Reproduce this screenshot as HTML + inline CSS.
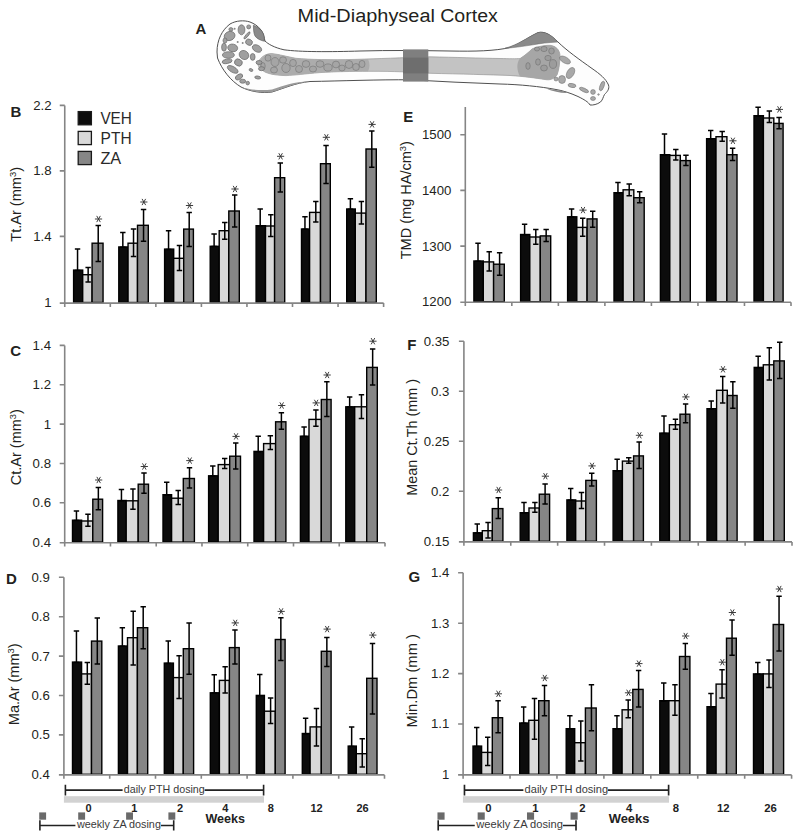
<!DOCTYPE html>
<html><head><meta charset="utf-8"><title>Figure</title>
<style>
html,body{margin:0;padding:0;background:#fff;}
body{width:800px;height:838px;overflow:hidden;}
svg{display:block;font-family:"Liberation Sans", sans-serif;}
</style></head>
<body>
<svg width="800" height="838" viewBox="0 0 800 838">
<rect width="800" height="838" fill="#fff"/>
<text x="297.6" y="22" font-size="19.2" fill="#231f20" textLength="137.3" lengthAdjust="spacingAndGlyphs">Mid-Diaphyseal</text>
<text x="440.2" y="22" font-size="19.2" fill="#231f20" textLength="57.6" lengthAdjust="spacingAndGlyphs">Cortex</text>
<text x="195.6" y="34" font-size="15" font-weight="bold" fill="#231f20">A</text>
<path d="M217 52 C217 40 222 30 230 24 C236 20.5 244 20 250 22 C254 23.5 258 26 261 30 C264 34 264 38 265 41 C268 44 274 47.5 284 49.8 C300 52 330 52 360 51 C390 50.2 420 50.5 450 51 C475 51.5 495 51 510 47.5 C520 44 530 36 538 32.6 C545 31 551 35 558 42 C566 50 580 60 592 68.5 C600 74 606 79 608.5 85 C609.8 89 607 92 604.5 94.5 C603 97 603 99.5 600.5 102 C597 104.5 593 105.3 590 105 C588.5 102 584 99.5 578 96.5 C570 92.8 562 90.5 556 89.5 C540 86.5 520 84.5 500 84 C470 83 440 81.5 410 79.8 C380 79.5 340 81 310 81.5 C295 83 285 88 272 92 C262 93.5 250 91.5 241 87 C231 81 222 70 217.5 58 Z" fill="#fdfdfd" stroke="#505050" stroke-width="1.0"/>
<path d="M253.4 25.3 C258 27 262 30 263.5 34 C264.5 37 264.3 39.5 264.5 41.3 C261 40.5 257 39 255 36 C253.5 33 253.5 29 253.4 25.3 Z" fill="#8a8a8a" stroke="#555" stroke-width="0.6"/>
<path d="M505 48.2 C518 45 528 37 538 32.6 C545 31 551 35 558 42 C548 42.5 540 43.5 533 44.8 C522 46.5 512 48 505 48.2 Z" fill="#8a8a8a" stroke="#666" stroke-width="0.5"/>
<path d="M241 87 C250 91.5 262 93.5 272 92 C285 88 295 83 310 81.5 C295 81.2 285 85.5 272 89.4 C262 91 250 89.8 241 87 Z" fill="#9a9a9a"/>
<path d="M546 88.6 C556 89.8 563 91 569 93 C562 93.6 554 92 546 88.6 Z" fill="#8a8a8a"/>
<path d="M258 62 C262 56 266 53.6 272 53.6 C280 54.5 286 56.5 296 58.3 C310 59.6 330 60 355 59.4 C380 58.6 400 57.8 430 56.8 C455 57.3 480 58.2 500 58.5 C510 58.7 516 58.8 520 58.6 C524 56 528 53 532 49 C536 47 544 45.2 550 45.3 C556 46 559.5 50 560 55 C560 62 559 70 557 75 C554 79 550 80.5 545 79.5 C535 78 525 76.5 510 75.5 C490 74.8 460 74 430 73.3 C410 72 395 71.3 370 71.3 C350 71.4 335 71.6 320 72.6 C305 73.8 295 75.3 286 75.6 C278 75.4 270 74.5 265 72 C260 69 257 66 258 62 Z" fill="#c3c3c3" stroke="#8a8a8a" stroke-width="0.6"/>
<path d="M262 58 C266 54.5 270 53.8 275 54.3 C282 55.2 288 57 296 58.4 C310 59.6 330 60 355 59.4 C362 59.2 366 59 368 59 C370 63 370 68 368 71.3 C355 71.3 340 71.5 320 72.6 C305 73.8 295 75.3 284 75.5 C276 75.2 269 74 265 72 C260 69 258 63 262 58 Z" fill="#acacac"/>
<path d="M520 58.6 C524 56 528 53 532 49 C536 47 544 45.2 550 45.3 C556 46 559.5 50 560 55 C560 62 559 70 557 75 C554 79 550 80.5 545 79.5 C535 78 527 77 520 76.5 C517 71 516 63 520 58.6 Z" fill="#a6a6a6"/>
<ellipse cx="268" cy="58" rx="3" ry="3.2" fill="#a5a5a5" stroke="#6e6e6e" stroke-width="0.55"/>
<ellipse cx="275" cy="62" rx="4" ry="4.5" fill="#a5a5a5" stroke="#6e6e6e" stroke-width="0.55"/>
<ellipse cx="274" cy="70" rx="3.5" ry="3" fill="#a5a5a5" stroke="#6e6e6e" stroke-width="0.55"/>
<ellipse cx="283" cy="60" rx="3.5" ry="3.2" fill="#a5a5a5" stroke="#6e6e6e" stroke-width="0.55"/>
<ellipse cx="286" cy="68" rx="4.2" ry="4.5" fill="#a5a5a5" stroke="#6e6e6e" stroke-width="0.55"/>
<ellipse cx="293" cy="63" rx="3.4" ry="3.6" fill="#a5a5a5" stroke="#6e6e6e" stroke-width="0.55"/>
<ellipse cx="299" cy="69" rx="3.5" ry="3.5" fill="#a5a5a5" stroke="#6e6e6e" stroke-width="0.55"/>
<ellipse cx="306" cy="64" rx="3.8" ry="3.4" fill="#a5a5a5" stroke="#6e6e6e" stroke-width="0.55"/>
<ellipse cx="313" cy="69" rx="3.6" ry="3" fill="#a5a5a5" stroke="#6e6e6e" stroke-width="0.55"/>
<ellipse cx="320" cy="64" rx="4" ry="3.3" fill="#a5a5a5" stroke="#6e6e6e" stroke-width="0.55"/>
<ellipse cx="328" cy="67.5" rx="4.2" ry="3.6" fill="#a5a5a5" stroke="#6e6e6e" stroke-width="0.55"/>
<ellipse cx="336" cy="64.5" rx="3.6" ry="3.4" fill="#a5a5a5" stroke="#6e6e6e" stroke-width="0.55"/>
<ellipse cx="342" cy="68" rx="3.2" ry="3" fill="#a5a5a5" stroke="#6e6e6e" stroke-width="0.55"/>
<ellipse cx="263" cy="66" rx="2.2" ry="3.4" fill="#a5a5a5" stroke="#6e6e6e" stroke-width="0.55"/>
<ellipse cx="349" cy="64.5" rx="3.8" ry="4" fill="#a5a5a5" stroke="#6e6e6e" stroke-width="0.55"/>
<ellipse cx="356" cy="67" rx="3.4" ry="3.5" fill="#a5a5a5" stroke="#6e6e6e" stroke-width="0.55"/>
<ellipse cx="362" cy="64" rx="3" ry="3.6" fill="#a5a5a5" stroke="#6e6e6e" stroke-width="0.55"/>
<ellipse cx="241.5" cy="29.8" rx="3.4" ry="5" transform="rotate(0 241.5 29.8)" fill="#9f9f9f" stroke="#6a6a6a" stroke-width="0.7"/>
<ellipse cx="248.7" cy="26.9" rx="2" ry="2" transform="rotate(0 248.7 26.9)" fill="#9f9f9f" stroke="#6a6a6a" stroke-width="0.7"/>
<ellipse cx="230.9" cy="29.4" rx="2" ry="1.8" transform="rotate(0 230.9 29.4)" fill="#9f9f9f" stroke="#6a6a6a" stroke-width="0.7"/>
<ellipse cx="229.6" cy="36" rx="5.5" ry="4.5" transform="rotate(-20 229.6 36)" fill="#9f9f9f" stroke="#6a6a6a" stroke-width="0.7"/>
<ellipse cx="249" cy="42.2" rx="3.5" ry="3" transform="rotate(30 249 42.2)" fill="#9f9f9f" stroke="#6a6a6a" stroke-width="0.7"/>
<ellipse cx="257" cy="48.5" rx="5" ry="3.3" transform="rotate(30 257 48.5)" fill="#9f9f9f" stroke="#6a6a6a" stroke-width="0.7"/>
<ellipse cx="232.7" cy="47.9" rx="5" ry="3.8" transform="rotate(10 232.7 47.9)" fill="#9f9f9f" stroke="#6a6a6a" stroke-width="0.7"/>
<ellipse cx="224" cy="47.2" rx="2.4" ry="4" transform="rotate(0 224 47.2)" fill="#9f9f9f" stroke="#6a6a6a" stroke-width="0.7"/>
<ellipse cx="228.4" cy="55" rx="6" ry="3.3" transform="rotate(0 228.4 55)" fill="#9f9f9f" stroke="#6a6a6a" stroke-width="0.7"/>
<ellipse cx="244" cy="55" rx="5" ry="4.3" transform="rotate(35 244 55)" fill="#9f9f9f" stroke="#6a6a6a" stroke-width="0.7"/>
<ellipse cx="252.7" cy="56.9" rx="2.4" ry="3.4" transform="rotate(0 252.7 56.9)" fill="#9f9f9f" stroke="#6a6a6a" stroke-width="0.7"/>
<ellipse cx="227.1" cy="61.3" rx="5" ry="2.2" transform="rotate(-10 227.1 61.3)" fill="#9f9f9f" stroke="#6a6a6a" stroke-width="0.7"/>
<ellipse cx="238.4" cy="62.5" rx="4" ry="3.4" transform="rotate(30 238.4 62.5)" fill="#9f9f9f" stroke="#6a6a6a" stroke-width="0.7"/>
<ellipse cx="232.7" cy="69.4" rx="6" ry="2.8" transform="rotate(30 232.7 69.4)" fill="#9f9f9f" stroke="#6a6a6a" stroke-width="0.7"/>
<ellipse cx="239" cy="76.9" rx="4" ry="2.4" transform="rotate(-30 239 76.9)" fill="#9f9f9f" stroke="#6a6a6a" stroke-width="0.7"/>
<ellipse cx="242.7" cy="81.2" rx="3" ry="2" transform="rotate(0 242.7 81.2)" fill="#9f9f9f" stroke="#6a6a6a" stroke-width="0.7"/>
<ellipse cx="247.7" cy="83.1" rx="1.8" ry="1.8" transform="rotate(0 247.7 83.1)" fill="#9f9f9f" stroke="#6a6a6a" stroke-width="0.7"/>
<ellipse cx="259" cy="62.5" rx="3" ry="2" transform="rotate(0 259 62.5)" fill="#9f9f9f" stroke="#6a6a6a" stroke-width="0.7"/>
<ellipse cx="261.5" cy="68.7" rx="3" ry="2" transform="rotate(0 261.5 68.7)" fill="#9f9f9f" stroke="#6a6a6a" stroke-width="0.7"/>
<ellipse cx="257.7" cy="77.5" rx="3" ry="1.5" transform="rotate(10 257.7 77.5)" fill="#9f9f9f" stroke="#6a6a6a" stroke-width="0.7"/>
<ellipse cx="247" cy="35.4" rx="1.2" ry="4.5" transform="rotate(40 247 35.4)" fill="#9f9f9f" stroke="#6a6a6a" stroke-width="0.7"/>
<ellipse cx="225" cy="40.5" rx="2" ry="2.6" transform="rotate(0 225 40.5)" fill="#9f9f9f" stroke="#6a6a6a" stroke-width="0.7"/>
<ellipse cx="251" cy="70" rx="2" ry="1.3" transform="rotate(20 251 70)" fill="#9f9f9f" stroke="#6a6a6a" stroke-width="0.7"/>
<circle cx="237.7" cy="42" r="1" fill="#888"/>
<circle cx="242.7" cy="42.9" r="1" fill="#888"/>
<circle cx="234.6" cy="28.8" r="1" fill="#888"/>
<ellipse cx="537" cy="49" rx="2.6" ry="2" transform="rotate(0 537 49)" fill="#9c9c9c" stroke="#6d6d6d" stroke-width="0.55"/>
<ellipse cx="544" cy="49" rx="3.2" ry="2.6" transform="rotate(0 544 49)" fill="#9c9c9c" stroke="#6d6d6d" stroke-width="0.55"/>
<ellipse cx="551.5" cy="51" rx="2.8" ry="3" transform="rotate(0 551.5 51)" fill="#9c9c9c" stroke="#6d6d6d" stroke-width="0.55"/>
<ellipse cx="548" cy="58" rx="3.2" ry="2.6" transform="rotate(0 548 58)" fill="#9c9c9c" stroke="#6d6d6d" stroke-width="0.55"/>
<ellipse cx="553" cy="64" rx="3.6" ry="4.4" transform="rotate(0 553 64)" fill="#9c9c9c" stroke="#6d6d6d" stroke-width="0.55"/>
<ellipse cx="538" cy="62" rx="2.4" ry="3.2" transform="rotate(0 538 62)" fill="#9c9c9c" stroke="#6d6d6d" stroke-width="0.55"/>
<ellipse cx="544" cy="68" rx="3.4" ry="3" transform="rotate(0 544 68)" fill="#9c9c9c" stroke="#6d6d6d" stroke-width="0.55"/>
<ellipse cx="528" cy="66" rx="2.2" ry="3.4" transform="rotate(0 528 66)" fill="#9c9c9c" stroke="#6d6d6d" stroke-width="0.55"/>
<ellipse cx="565" cy="60" rx="6" ry="3" transform="rotate(30 565 60)" fill="#a8a8a8" stroke="#707070" stroke-width="0.55"/>
<ellipse cx="570.5" cy="73" rx="3.5" ry="6" transform="rotate(30 570.5 73)" fill="#a8a8a8" stroke="#707070" stroke-width="0.55"/>
<ellipse cx="562" cy="79.5" rx="3.5" ry="4" transform="rotate(0 562 79.5)" fill="#a8a8a8" stroke="#707070" stroke-width="0.55"/>
<ellipse cx="572" cy="85.5" rx="4" ry="2" transform="rotate(10 572 85.5)" fill="#a8a8a8" stroke="#707070" stroke-width="0.55"/>
<ellipse cx="556" cy="79" rx="2" ry="2" transform="rotate(0 556 79)" fill="#a8a8a8" stroke="#707070" stroke-width="0.55"/>
<ellipse cx="584" cy="90" rx="5" ry="1.8" transform="rotate(25 584 90)" fill="#a8a8a8" stroke="#707070" stroke-width="0.55"/>
<ellipse cx="593" cy="92" rx="2.4" ry="2.4" transform="rotate(0 593 92)" fill="#a8a8a8" stroke="#707070" stroke-width="0.55"/>
<ellipse cx="602" cy="86" rx="2" ry="5" transform="rotate(20 602 86)" fill="#a8a8a8" stroke="#707070" stroke-width="0.55"/>
<ellipse cx="593" cy="98.5" rx="2.5" ry="2" transform="rotate(0 593 98.5)" fill="#a8a8a8" stroke="#707070" stroke-width="0.55"/>
<ellipse cx="598.5" cy="94.5" rx="0.8" ry="0.8" transform="rotate(0 598.5 94.5)" fill="#a8a8a8" stroke="#707070" stroke-width="0.55"/>
<rect x="403" y="49.4" width="25.3" height="32.2" fill="#7f7f7f"/>
<rect x="403" y="57.6" width="25.3" height="15.8" fill="#6e6e6e"/>
<rect x="73.6" y="270.1" width="9.1" height="32.4" fill="#0c0c0c" stroke="#000" stroke-width="1.4"/>
<rect x="82.7" y="274.7" width="9.4" height="27.8" fill="#d9d9d9" stroke="#000" stroke-width="1.4"/>
<rect x="92.1" y="243.2" width="10.95" height="59.3" fill="#868686" stroke="#000" stroke-width="1.4"/>
<path d="M77.55 249V270.4M74.85 249h5.4M74.85 270.4h5.4" stroke="#000" stroke-width="1.5" fill="none"/>
<path d="M88.15 267.5V282M85.45 267.5h5.4M85.45 282h5.4" stroke="#000" stroke-width="1.5" fill="none"/>
<path d="M98.22 225.6V261.6M95.52 225.6h5.4M95.52 261.6h5.4" stroke="#000" stroke-width="1.5" fill="none"/>
<path d="M94.92 219L102.12 219M96.72 215.88L100.32 222.12M100.32 215.88L96.72 222.12" stroke="#333" stroke-width="0.95" fill="none"/>
<rect x="118.8" y="246.95" width="9.25" height="55.55" fill="#0c0c0c" stroke="#000" stroke-width="1.4"/>
<rect x="128.05" y="243.2" width="9.45" height="59.3" fill="#d9d9d9" stroke="#000" stroke-width="1.4"/>
<rect x="137.5" y="225.3" width="10.8" height="77.2" fill="#868686" stroke="#000" stroke-width="1.4"/>
<path d="M122.83 232.5V247.25M120.12 232.5h5.4M120.12 247.25h5.4" stroke="#000" stroke-width="1.5" fill="none"/>
<path d="M133.53 229V256.5M130.83 229h5.4M130.83 256.5h5.4" stroke="#000" stroke-width="1.5" fill="none"/>
<path d="M143.55 209.5V241.25M140.85 209.5h5.4M140.85 241.25h5.4" stroke="#000" stroke-width="1.5" fill="none"/>
<path d="M140.25 202L147.45 202M142.05 198.88L145.65 205.12M145.65 198.88L142.05 205.12" stroke="#333" stroke-width="0.95" fill="none"/>
<rect x="164.6" y="249.1" width="9.1" height="53.4" fill="#0c0c0c" stroke="#000" stroke-width="1.4"/>
<rect x="173.7" y="258.3" width="10" height="44.2" fill="#d9d9d9" stroke="#000" stroke-width="1.4"/>
<rect x="183.7" y="229.1" width="9.7" height="73.4" fill="#868686" stroke="#000" stroke-width="1.4"/>
<path d="M168.55 230.8V249.4M165.85 230.8h5.4M165.85 249.4h5.4" stroke="#000" stroke-width="1.5" fill="none"/>
<path d="M179.45 245.6V270.5M176.75 245.6h5.4M176.75 270.5h5.4" stroke="#000" stroke-width="1.5" fill="none"/>
<path d="M189.2 212.5V246.6M186.5 212.5h5.4M186.5 246.6h5.4" stroke="#000" stroke-width="1.5" fill="none"/>
<path d="M185.9 205.5L193.1 205.5M187.7 202.38L191.3 208.62M191.3 202.38L187.7 208.62" stroke="#333" stroke-width="0.95" fill="none"/>
<rect x="210.2" y="246.3" width="9" height="56.2" fill="#0c0c0c" stroke="#000" stroke-width="1.4"/>
<rect x="219.2" y="230.7" width="9.6" height="71.8" fill="#d9d9d9" stroke="#000" stroke-width="1.4"/>
<rect x="228.8" y="211" width="10.5" height="91.5" fill="#868686" stroke="#000" stroke-width="1.4"/>
<path d="M214.1 234V246.6M211.4 234h5.4M211.4 246.6h5.4" stroke="#000" stroke-width="1.5" fill="none"/>
<path d="M224.75 222.6V239.2M222.05 222.6h5.4M222.05 239.2h5.4" stroke="#000" stroke-width="1.5" fill="none"/>
<path d="M234.7 195V227M232 195h5.4M232 227h5.4" stroke="#000" stroke-width="1.5" fill="none"/>
<path d="M231.4 189L238.6 189M233.2 185.88L236.8 192.12M236.8 185.88L233.2 192.12" stroke="#333" stroke-width="0.95" fill="none"/>
<rect x="256.1" y="225.7" width="9.4" height="76.8" fill="#0c0c0c" stroke="#000" stroke-width="1.4"/>
<rect x="265.5" y="226" width="9.1" height="76.5" fill="#d9d9d9" stroke="#000" stroke-width="1.4"/>
<rect x="274.6" y="177.7" width="10.1" height="124.8" fill="#868686" stroke="#000" stroke-width="1.4"/>
<path d="M260.2 209V226M257.5 209h5.4M257.5 226h5.4" stroke="#000" stroke-width="1.5" fill="none"/>
<path d="M270.8 214.7V236.5M268.1 214.7h5.4M268.1 236.5h5.4" stroke="#000" stroke-width="1.5" fill="none"/>
<path d="M280.3 163V192M277.6 163h5.4M277.6 192h5.4" stroke="#000" stroke-width="1.5" fill="none"/>
<path d="M277 156.3L284.2 156.3M278.8 153.18L282.4 159.42M282.4 153.18L278.8 159.42" stroke="#333" stroke-width="0.95" fill="none"/>
<rect x="301.5" y="229" width="8.1" height="73.5" fill="#0c0c0c" stroke="#000" stroke-width="1.4"/>
<rect x="309.6" y="212.4" width="10.9" height="90.1" fill="#d9d9d9" stroke="#000" stroke-width="1.4"/>
<rect x="320.5" y="163.7" width="9.8" height="138.8" fill="#868686" stroke="#000" stroke-width="1.4"/>
<path d="M304.95 216.8V229.3M302.25 216.8h5.4M302.25 229.3h5.4" stroke="#000" stroke-width="1.5" fill="none"/>
<path d="M315.8 201.4V222M313.1 201.4h5.4M313.1 222h5.4" stroke="#000" stroke-width="1.5" fill="none"/>
<path d="M326.05 145.5V183.5M323.35 145.5h5.4M323.35 183.5h5.4" stroke="#000" stroke-width="1.5" fill="none"/>
<path d="M322.75 137.3L329.95 137.3M324.55 134.18L328.15 140.42M328.15 134.18L324.55 140.42" stroke="#333" stroke-width="0.95" fill="none"/>
<rect x="346.7" y="209" width="8.6" height="93.5" fill="#0c0c0c" stroke="#000" stroke-width="1.4"/>
<rect x="355.3" y="213.1" width="10.7" height="89.4" fill="#d9d9d9" stroke="#000" stroke-width="1.4"/>
<rect x="366" y="149" width="10.3" height="153.5" fill="#868686" stroke="#000" stroke-width="1.4"/>
<path d="M350.4 198.8V209.3M347.7 198.8h5.4M347.7 209.3h5.4" stroke="#000" stroke-width="1.5" fill="none"/>
<path d="M361.4 201.4V224M358.7 201.4h5.4M358.7 224h5.4" stroke="#000" stroke-width="1.5" fill="none"/>
<path d="M371.8 131V167.3M369.1 131h5.4M369.1 167.3h5.4" stroke="#000" stroke-width="1.5" fill="none"/>
<path d="M368.5 124.4L375.7 124.4M370.3 121.28L373.9 127.52M373.9 121.28L370.3 127.52" stroke="#333" stroke-width="0.95" fill="none"/>
<path d="M64.75 105.4V303.1H383.6" stroke="#858585" stroke-width="1.6" fill="none"/>
<path d="M59.75 105.4H64.75M59.75 170.9H64.75M59.75 236.4H64.75M59.75 303.1H64.75M64.75 303.1V306.9M110.3 303.1V306.9M155.85 303.1V306.9M201.4 303.1V306.9M246.95 303.1V306.9M292.5 303.1V306.9M338.05 303.1V306.9M383.6 303.1V306.9" stroke="#858585" stroke-width="1.6" fill="none"/>
<text x="51.6" y="109.8" text-anchor="end" font-size="12.4" fill="#231f20" textLength="18.36" lengthAdjust="spacingAndGlyphs">2.2</text>
<text x="51.6" y="175.3" text-anchor="end" font-size="12.4" fill="#231f20" textLength="18.36" lengthAdjust="spacingAndGlyphs">1.8</text>
<text x="51.6" y="240.8" text-anchor="end" font-size="12.4" fill="#231f20" textLength="18.36" lengthAdjust="spacingAndGlyphs">1.4</text>
<text x="51.6" y="306.9" text-anchor="end" font-size="12.4" fill="#231f20" textLength="7.34" lengthAdjust="spacingAndGlyphs">1</text>
<text x="10.4" y="117" font-size="15" font-weight="bold" fill="#231f20">B</text>
<text transform="translate(21 241.7) rotate(-90)" font-size="14" fill="#231f20" textLength="74.7" lengthAdjust="spacingAndGlyphs">Tt.Ar (mm<tspan font-size="9" dy="-5">3</tspan><tspan dy="5">)</tspan></text>
<rect x="72.5" y="520.2" width="9.1" height="21.9" fill="#0c0c0c" stroke="#000" stroke-width="1.4"/>
<rect x="81.6" y="521" width="11.2" height="21.1" fill="#d9d9d9" stroke="#000" stroke-width="1.4"/>
<rect x="92.8" y="499.2" width="9.8" height="42.9" fill="#868686" stroke="#000" stroke-width="1.4"/>
<path d="M76.45 511.1V520.5M73.75 511.1h5.4M73.75 520.5h5.4" stroke="#000" stroke-width="1.5" fill="none"/>
<path d="M87.95 514.3V526.3M85.25 514.3h5.4M85.25 526.3h5.4" stroke="#000" stroke-width="1.5" fill="none"/>
<path d="M98.35 487.5V509.8M95.65 487.5h5.4M95.65 509.8h5.4" stroke="#000" stroke-width="1.5" fill="none"/>
<path d="M95.05 480L102.25 480M96.85 476.88L100.45 483.12M100.45 476.88L96.85 483.12" stroke="#333" stroke-width="0.95" fill="none"/>
<rect x="117.9" y="500.5" width="8.3" height="41.6" fill="#0c0c0c" stroke="#000" stroke-width="1.4"/>
<rect x="126.2" y="500.8" width="12" height="41.3" fill="#d9d9d9" stroke="#000" stroke-width="1.4"/>
<rect x="138.2" y="484.2" width="10.3" height="57.9" fill="#868686" stroke="#000" stroke-width="1.4"/>
<path d="M121.45 489.6V500.8M118.75 489.6h5.4M118.75 500.8h5.4" stroke="#000" stroke-width="1.5" fill="none"/>
<path d="M132.95 489V509.3M130.25 489h5.4M130.25 509.3h5.4" stroke="#000" stroke-width="1.5" fill="none"/>
<path d="M144 473V493.3M141.3 473h5.4M141.3 493.3h5.4" stroke="#000" stroke-width="1.5" fill="none"/>
<path d="M140.7 466.5L147.9 466.5M142.5 463.38L146.1 469.62M146.1 463.38L142.5 469.62" stroke="#333" stroke-width="0.95" fill="none"/>
<rect x="163" y="494.7" width="8.6" height="47.4" fill="#0c0c0c" stroke="#000" stroke-width="1.4"/>
<rect x="171.6" y="498.2" width="11.7" height="43.9" fill="#d9d9d9" stroke="#000" stroke-width="1.4"/>
<rect x="183.3" y="478.5" width="11.1" height="63.6" fill="#868686" stroke="#000" stroke-width="1.4"/>
<path d="M166.7 482.2V495M164 482.2h5.4M164 495h5.4" stroke="#000" stroke-width="1.5" fill="none"/>
<path d="M178.2 490.6V504.5M175.5 490.6h5.4M175.5 504.5h5.4" stroke="#000" stroke-width="1.5" fill="none"/>
<path d="M189.5 467.8V488M186.8 467.8h5.4M186.8 488h5.4" stroke="#000" stroke-width="1.5" fill="none"/>
<path d="M186.2 460.6L193.4 460.6M188 457.48L191.6 463.72M191.6 457.48L188 463.72" stroke="#333" stroke-width="0.95" fill="none"/>
<rect x="208.6" y="475.8" width="9.6" height="66.3" fill="#0c0c0c" stroke="#000" stroke-width="1.4"/>
<rect x="218.2" y="464.6" width="11.5" height="77.5" fill="#d9d9d9" stroke="#000" stroke-width="1.4"/>
<rect x="229.7" y="456.2" width="10.8" height="85.9" fill="#868686" stroke="#000" stroke-width="1.4"/>
<path d="M212.8 466V476.1M210.1 466h5.4M210.1 476.1h5.4" stroke="#000" stroke-width="1.5" fill="none"/>
<path d="M224.7 458.6V468.6M222 458.6h5.4M222 468.6h5.4" stroke="#000" stroke-width="1.5" fill="none"/>
<path d="M235.75 442.9V469.1M233.05 442.9h5.4M233.05 469.1h5.4" stroke="#000" stroke-width="1.5" fill="none"/>
<path d="M232.45 436.4L239.65 436.4M234.25 433.28L237.85 439.52M237.85 433.28L234.25 439.52" stroke="#333" stroke-width="0.95" fill="none"/>
<rect x="254" y="451.4" width="9.6" height="90.7" fill="#0c0c0c" stroke="#000" stroke-width="1.4"/>
<rect x="263.6" y="443.6" width="12" height="98.5" fill="#d9d9d9" stroke="#000" stroke-width="1.4"/>
<rect x="275.6" y="421.8" width="10.3" height="120.3" fill="#868686" stroke="#000" stroke-width="1.4"/>
<path d="M258.2 436.3V451.7M255.5 436.3h5.4M255.5 451.7h5.4" stroke="#000" stroke-width="1.5" fill="none"/>
<path d="M270.35 435.8V449.4M267.65 435.8h5.4M267.65 449.4h5.4" stroke="#000" stroke-width="1.5" fill="none"/>
<path d="M281.4 412.7V429.2M278.7 412.7h5.4M278.7 429.2h5.4" stroke="#000" stroke-width="1.5" fill="none"/>
<path d="M278.1 405.5L285.3 405.5M279.9 402.38L283.5 408.62M283.5 402.38L279.9 408.62" stroke="#333" stroke-width="0.95" fill="none"/>
<rect x="300.4" y="436.2" width="8.6" height="105.9" fill="#0c0c0c" stroke="#000" stroke-width="1.4"/>
<rect x="309" y="419.4" width="12.3" height="122.7" fill="#d9d9d9" stroke="#000" stroke-width="1.4"/>
<rect x="321.3" y="399.5" width="9.8" height="142.6" fill="#868686" stroke="#000" stroke-width="1.4"/>
<path d="M304.1 427.1V436.5M301.4 427.1h5.4M301.4 436.5h5.4" stroke="#000" stroke-width="1.5" fill="none"/>
<path d="M315.9 410V426.3M313.2 410h5.4M313.2 426.3h5.4" stroke="#000" stroke-width="1.5" fill="none"/>
<path d="M312.6 402.9L319.8 402.9M314.4 399.78L318 406.02M318 399.78L314.4 406.02" stroke="#333" stroke-width="0.95" fill="none"/>
<path d="M326.85 381.7V416.6M324.15 381.7h5.4M324.15 416.6h5.4" stroke="#000" stroke-width="1.5" fill="none"/>
<path d="M323.55 375L330.75 375M325.35 371.88L328.95 378.12M328.95 371.88L325.35 378.12" stroke="#333" stroke-width="0.95" fill="none"/>
<rect x="345.8" y="406.8" width="8.9" height="135.3" fill="#0c0c0c" stroke="#000" stroke-width="1.4"/>
<rect x="354.7" y="406.8" width="12" height="135.3" fill="#d9d9d9" stroke="#000" stroke-width="1.4"/>
<rect x="366.7" y="367.4" width="10.6" height="174.7" fill="#868686" stroke="#000" stroke-width="1.4"/>
<path d="M349.65 396.9V407.1M346.95 396.9h5.4M346.95 407.1h5.4" stroke="#000" stroke-width="1.5" fill="none"/>
<path d="M361.45 394.8V418.5M358.75 394.8h5.4M358.75 418.5h5.4" stroke="#000" stroke-width="1.5" fill="none"/>
<path d="M372.65 348.9V385.1M369.95 348.9h5.4M369.95 385.1h5.4" stroke="#000" stroke-width="1.5" fill="none"/>
<path d="M369.35 341.2L376.55 341.2M371.15 338.08L374.75 344.32M374.75 338.08L371.15 344.32" stroke="#333" stroke-width="0.95" fill="none"/>
<path d="M64.7 345.4V542.7H385" stroke="#858585" stroke-width="1.6" fill="none"/>
<path d="M59.7 345.4H64.7M59.7 384.8H64.7M59.7 424.1H64.7M59.7 463.5H64.7M59.7 502.8H64.7M59.7 542.7H64.7M64.7 542.7V546.5M110.46 542.7V546.5M156.21 542.7V546.5M201.97 542.7V546.5M247.73 542.7V546.5M293.49 542.7V546.5M339.24 542.7V546.5M385 542.7V546.5" stroke="#858585" stroke-width="1.6" fill="none"/>
<text x="51" y="349.8" text-anchor="end" font-size="12.4" fill="#231f20" textLength="18.36" lengthAdjust="spacingAndGlyphs">1.4</text>
<text x="51" y="389.2" text-anchor="end" font-size="12.4" fill="#231f20" textLength="18.36" lengthAdjust="spacingAndGlyphs">1.2</text>
<text x="51" y="428.5" text-anchor="end" font-size="12.4" fill="#231f20" textLength="7.34" lengthAdjust="spacingAndGlyphs">1</text>
<text x="51" y="467.9" text-anchor="end" font-size="12.4" fill="#231f20" textLength="18.36" lengthAdjust="spacingAndGlyphs">0.8</text>
<text x="51" y="507.2" text-anchor="end" font-size="12.4" fill="#231f20" textLength="18.36" lengthAdjust="spacingAndGlyphs">0.6</text>
<text x="51" y="546.5" text-anchor="end" font-size="12.4" fill="#231f20" textLength="18.36" lengthAdjust="spacingAndGlyphs">0.4</text>
<text x="10.2" y="355.6" font-size="15" font-weight="bold" fill="#231f20">C</text>
<text transform="translate(20.7 485.2) rotate(-90)" font-size="14" fill="#231f20" textLength="76" lengthAdjust="spacingAndGlyphs">Ct.Ar (mm<tspan font-size="9" dy="-5">3</tspan><tspan dy="5">)</tspan></text>
<rect x="72.5" y="662.1" width="9.1" height="112.2" fill="#0c0c0c" stroke="#000" stroke-width="1.4"/>
<rect x="81.6" y="673.9" width="9.9" height="100.4" fill="#d9d9d9" stroke="#000" stroke-width="1.4"/>
<rect x="91.5" y="641.1" width="10.3" height="133.2" fill="#868686" stroke="#000" stroke-width="1.4"/>
<path d="M76.45 630.9V662.4M73.75 630.9h5.4M73.75 662.4h5.4" stroke="#000" stroke-width="1.5" fill="none"/>
<path d="M87.3 662.4V684.2M84.6 662.4h5.4M84.6 684.2h5.4" stroke="#000" stroke-width="1.5" fill="none"/>
<path d="M97.3 618V664M94.6 618h5.4M94.6 664h5.4" stroke="#000" stroke-width="1.5" fill="none"/>
<rect x="118.4" y="646" width="9.1" height="128.3" fill="#0c0c0c" stroke="#000" stroke-width="1.4"/>
<rect x="127.5" y="637.7" width="9.9" height="136.6" fill="#d9d9d9" stroke="#000" stroke-width="1.4"/>
<rect x="137.4" y="627.7" width="10.3" height="146.6" fill="#868686" stroke="#000" stroke-width="1.4"/>
<path d="M122.35 627.8V646.3M119.65 627.8h5.4M119.65 646.3h5.4" stroke="#000" stroke-width="1.5" fill="none"/>
<path d="M133.2 611.2V665M130.5 611.2h5.4M130.5 665h5.4" stroke="#000" stroke-width="1.5" fill="none"/>
<path d="M143.2 606.8V648.8M140.5 606.8h5.4M140.5 648.8h5.4" stroke="#000" stroke-width="1.5" fill="none"/>
<rect x="164.3" y="663.1" width="9.1" height="111.2" fill="#0c0c0c" stroke="#000" stroke-width="1.4"/>
<rect x="173.4" y="677.6" width="9.9" height="96.7" fill="#d9d9d9" stroke="#000" stroke-width="1.4"/>
<rect x="183.3" y="648.7" width="10.3" height="125.6" fill="#868686" stroke="#000" stroke-width="1.4"/>
<path d="M168.25 640.9V663.4M165.55 640.9h5.4M165.55 663.4h5.4" stroke="#000" stroke-width="1.5" fill="none"/>
<path d="M179.1 655.8V698.6M176.4 655.8h5.4M176.4 698.6h5.4" stroke="#000" stroke-width="1.5" fill="none"/>
<path d="M189.1 623V674.2M186.4 623h5.4M186.4 674.2h5.4" stroke="#000" stroke-width="1.5" fill="none"/>
<rect x="210.3" y="692.8" width="9.1" height="81.5" fill="#0c0c0c" stroke="#000" stroke-width="1.4"/>
<rect x="219.4" y="680.4" width="10" height="93.9" fill="#d9d9d9" stroke="#000" stroke-width="1.4"/>
<rect x="229.4" y="647.6" width="9.8" height="126.7" fill="#868686" stroke="#000" stroke-width="1.4"/>
<path d="M214.25 674.7V693.1M211.55 674.7h5.4M211.55 693.1h5.4" stroke="#000" stroke-width="1.5" fill="none"/>
<path d="M225.15 666.8V692.9M222.45 666.8h5.4M222.45 692.9h5.4" stroke="#000" stroke-width="1.5" fill="none"/>
<path d="M234.95 629.9V664M232.25 629.9h5.4M232.25 664h5.4" stroke="#000" stroke-width="1.5" fill="none"/>
<path d="M231.65 622.9L238.85 622.9M233.45 619.78L237.05 626.02M237.05 619.78L233.45 626.02" stroke="#333" stroke-width="0.95" fill="none"/>
<rect x="256.3" y="695.4" width="8.1" height="78.9" fill="#0c0c0c" stroke="#000" stroke-width="1.4"/>
<rect x="264.4" y="711.2" width="10.9" height="63.1" fill="#d9d9d9" stroke="#000" stroke-width="1.4"/>
<rect x="275.3" y="639.5" width="9.8" height="134.8" fill="#868686" stroke="#000" stroke-width="1.4"/>
<path d="M259.75 674.5V695.7M257.05 674.5h5.4M257.05 695.7h5.4" stroke="#000" stroke-width="1.5" fill="none"/>
<path d="M270.6 697.9V723.6M267.9 697.9h5.4M267.9 723.6h5.4" stroke="#000" stroke-width="1.5" fill="none"/>
<path d="M280.85 617.8V660.6M278.15 617.8h5.4M278.15 660.6h5.4" stroke="#000" stroke-width="1.5" fill="none"/>
<path d="M277.55 611.4L284.75 611.4M279.35 608.28L282.95 614.52M282.95 608.28L279.35 614.52" stroke="#333" stroke-width="0.95" fill="none"/>
<rect x="302.3" y="733.5" width="7.8" height="40.8" fill="#0c0c0c" stroke="#000" stroke-width="1.4"/>
<rect x="310.1" y="726.9" width="11.2" height="47.4" fill="#d9d9d9" stroke="#000" stroke-width="1.4"/>
<rect x="321.3" y="651.3" width="9.8" height="123" fill="#868686" stroke="#000" stroke-width="1.4"/>
<path d="M305.6 718.3V733.8M302.9 718.3h5.4M302.9 733.8h5.4" stroke="#000" stroke-width="1.5" fill="none"/>
<path d="M316.45 708.4V745.9M313.75 708.4h5.4M313.75 745.9h5.4" stroke="#000" stroke-width="1.5" fill="none"/>
<path d="M326.85 637.5V666.4M324.15 637.5h5.4M324.15 666.4h5.4" stroke="#000" stroke-width="1.5" fill="none"/>
<path d="M323.55 629.1L330.75 629.1M325.35 625.98L328.95 632.22M328.95 625.98L325.35 632.22" stroke="#333" stroke-width="0.95" fill="none"/>
<rect x="348.2" y="746.1" width="8.1" height="28.2" fill="#0c0c0c" stroke="#000" stroke-width="1.4"/>
<rect x="356.3" y="753.7" width="10.4" height="20.6" fill="#d9d9d9" stroke="#000" stroke-width="1.4"/>
<rect x="366.7" y="678.3" width="10.3" height="96" fill="#868686" stroke="#000" stroke-width="1.4"/>
<path d="M351.65 727V746.4M348.95 727h5.4M348.95 746.4h5.4" stroke="#000" stroke-width="1.5" fill="none"/>
<path d="M362.25 738.8V766.9M359.55 738.8h5.4M359.55 766.9h5.4" stroke="#000" stroke-width="1.5" fill="none"/>
<path d="M372.5 643.5V713.9M369.8 643.5h5.4M369.8 713.9h5.4" stroke="#000" stroke-width="1.5" fill="none"/>
<path d="M369.2 635.1L376.4 635.1M371 631.98L374.6 638.22M374.6 631.98L371 638.22" stroke="#333" stroke-width="0.95" fill="none"/>
<path d="M63.9 577.3V774.9H384.5" stroke="#858585" stroke-width="1.6" fill="none"/>
<path d="M58.9 577.3H63.9M58.9 616.7H63.9M58.9 656.1H63.9M58.9 695.5H63.9M58.9 734.9H63.9M58.9 774.9H63.9M63.9 774.9V778.7M109.7 774.9V778.7M155.5 774.9V778.7M201.3 774.9V778.7M247.1 774.9V778.7M292.9 774.9V778.7M338.7 774.9V778.7M384.5 774.9V778.7" stroke="#858585" stroke-width="1.6" fill="none"/>
<text x="49.9" y="581.7" text-anchor="end" font-size="12.4" fill="#231f20" textLength="18.36" lengthAdjust="spacingAndGlyphs">0.9</text>
<text x="49.9" y="621.1" text-anchor="end" font-size="12.4" fill="#231f20" textLength="18.36" lengthAdjust="spacingAndGlyphs">0.8</text>
<text x="49.9" y="660.5" text-anchor="end" font-size="12.4" fill="#231f20" textLength="18.36" lengthAdjust="spacingAndGlyphs">0.7</text>
<text x="49.9" y="699.9" text-anchor="end" font-size="12.4" fill="#231f20" textLength="18.36" lengthAdjust="spacingAndGlyphs">0.6</text>
<text x="49.9" y="739.3" text-anchor="end" font-size="12.4" fill="#231f20" textLength="18.36" lengthAdjust="spacingAndGlyphs">0.5</text>
<text x="49.9" y="778.7" text-anchor="end" font-size="12.4" fill="#231f20" textLength="18.36" lengthAdjust="spacingAndGlyphs">0.4</text>
<text x="6.1" y="584.4" font-size="15" font-weight="bold" fill="#231f20">D</text>
<text transform="translate(18.5 725.2) rotate(-90)" font-size="14" fill="#231f20" textLength="81.8" lengthAdjust="spacingAndGlyphs">Ma.Ar (mm<tspan font-size="9" dy="-5">3</tspan><tspan dy="5">)</tspan></text>
<rect x="473.9" y="261" width="9.4" height="40.7" fill="#0c0c0c" stroke="#000" stroke-width="1.4"/>
<rect x="483.3" y="261.9" width="10.3" height="39.8" fill="#d9d9d9" stroke="#000" stroke-width="1.4"/>
<rect x="493.6" y="264.2" width="10.7" height="37.5" fill="#868686" stroke="#000" stroke-width="1.4"/>
<path d="M478 243.3V261.3M475.3 243.3h5.4M475.3 261.3h5.4" stroke="#000" stroke-width="1.5" fill="none"/>
<path d="M489.2 251.8V271M486.5 251.8h5.4M486.5 271h5.4" stroke="#000" stroke-width="1.5" fill="none"/>
<path d="M499.6 252.7V275.2M496.9 252.7h5.4M496.9 275.2h5.4" stroke="#000" stroke-width="1.5" fill="none"/>
<rect x="520.6" y="234.5" width="9.2" height="67.2" fill="#0c0c0c" stroke="#000" stroke-width="1.4"/>
<rect x="529.8" y="237" width="10.5" height="64.7" fill="#d9d9d9" stroke="#000" stroke-width="1.4"/>
<rect x="540.3" y="235.9" width="10.4" height="65.8" fill="#868686" stroke="#000" stroke-width="1.4"/>
<path d="M524.6 224.2V234.8M521.9 224.2h5.4M521.9 234.8h5.4" stroke="#000" stroke-width="1.5" fill="none"/>
<path d="M535.8 229.5V244.2M533.1 229.5h5.4M533.1 244.2h5.4" stroke="#000" stroke-width="1.5" fill="none"/>
<path d="M546.15 229.5V241.6M543.45 229.5h5.4M543.45 241.6h5.4" stroke="#000" stroke-width="1.5" fill="none"/>
<rect x="567.6" y="216.8" width="9.2" height="84.9" fill="#0c0c0c" stroke="#000" stroke-width="1.4"/>
<rect x="576.8" y="227.4" width="10.3" height="74.3" fill="#d9d9d9" stroke="#000" stroke-width="1.4"/>
<rect x="587.1" y="218.9" width="9.9" height="82.8" fill="#868686" stroke="#000" stroke-width="1.4"/>
<path d="M571.6 209.1V217.1M568.9 209.1h5.4M568.9 217.1h5.4" stroke="#000" stroke-width="1.5" fill="none"/>
<path d="M582.7 218.2V236.3M580 218.2h5.4M580 236.3h5.4" stroke="#000" stroke-width="1.5" fill="none"/>
<path d="M579.4 210.1L586.6 210.1M581.2 206.98L584.8 213.22M584.8 206.98L581.2 213.22" stroke="#333" stroke-width="0.95" fill="none"/>
<path d="M592.7 211.2V227.2M590 211.2h5.4M590 227.2h5.4" stroke="#000" stroke-width="1.5" fill="none"/>
<rect x="614" y="192.7" width="9.1" height="109" fill="#0c0c0c" stroke="#000" stroke-width="1.4"/>
<rect x="623.1" y="189.8" width="10.7" height="111.9" fill="#d9d9d9" stroke="#000" stroke-width="1.4"/>
<rect x="633.8" y="197.7" width="10.4" height="104" fill="#868686" stroke="#000" stroke-width="1.4"/>
<path d="M617.95 182.6V193M615.25 182.6h5.4M615.25 193h5.4" stroke="#000" stroke-width="1.5" fill="none"/>
<path d="M629.2 184V195.8M626.5 184h5.4M626.5 195.8h5.4" stroke="#000" stroke-width="1.5" fill="none"/>
<path d="M639.65 191.7V202.7M636.95 191.7h5.4M636.95 202.7h5.4" stroke="#000" stroke-width="1.5" fill="none"/>
<rect x="660.4" y="154.7" width="9.4" height="147" fill="#0c0c0c" stroke="#000" stroke-width="1.4"/>
<rect x="669.8" y="155.4" width="10.5" height="146.3" fill="#d9d9d9" stroke="#000" stroke-width="1.4"/>
<rect x="680.3" y="160.6" width="10" height="141.1" fill="#868686" stroke="#000" stroke-width="1.4"/>
<path d="M664.5 134V155M661.8 134h5.4M661.8 155h5.4" stroke="#000" stroke-width="1.5" fill="none"/>
<path d="M675.8 149.4V159.9M673.1 149.4h5.4M673.1 159.9h5.4" stroke="#000" stroke-width="1.5" fill="none"/>
<path d="M685.95 155.3V165.5M683.25 155.3h5.4M683.25 165.5h5.4" stroke="#000" stroke-width="1.5" fill="none"/>
<rect x="706.6" y="138.7" width="9.4" height="163" fill="#0c0c0c" stroke="#000" stroke-width="1.4"/>
<rect x="716" y="136.7" width="10.9" height="165" fill="#d9d9d9" stroke="#000" stroke-width="1.4"/>
<rect x="726.9" y="154.7" width="10.1" height="147" fill="#868686" stroke="#000" stroke-width="1.4"/>
<path d="M710.7 130.4V139M708 130.4h5.4M708 139h5.4" stroke="#000" stroke-width="1.5" fill="none"/>
<path d="M722.2 131.4V141.2M719.5 131.4h5.4M719.5 141.2h5.4" stroke="#000" stroke-width="1.5" fill="none"/>
<path d="M732.6 148.3V160.4M729.9 148.3h5.4M729.9 160.4h5.4" stroke="#000" stroke-width="1.5" fill="none"/>
<path d="M729.3 140.8L736.5 140.8M731.1 137.68L734.7 143.92M734.7 137.68L731.1 143.92" stroke="#333" stroke-width="0.95" fill="none"/>
<rect x="754" y="115.7" width="9.4" height="186" fill="#0c0c0c" stroke="#000" stroke-width="1.4"/>
<rect x="763.4" y="118" width="10.4" height="183.7" fill="#d9d9d9" stroke="#000" stroke-width="1.4"/>
<rect x="773.8" y="123.4" width="9.3" height="178.3" fill="#868686" stroke="#000" stroke-width="1.4"/>
<path d="M758.1 107.3V116M755.4 107.3h5.4M755.4 116h5.4" stroke="#000" stroke-width="1.5" fill="none"/>
<path d="M769.35 110.9V122.4M766.65 110.9h5.4M766.65 122.4h5.4" stroke="#000" stroke-width="1.5" fill="none"/>
<path d="M779.1 117.6V128.8M776.4 117.6h5.4M776.4 128.8h5.4" stroke="#000" stroke-width="1.5" fill="none"/>
<path d="M775.8 109.4L783 109.4M777.6 106.28L781.2 112.52M781.2 106.28L777.6 112.52" stroke="#333" stroke-width="0.95" fill="none"/>
<path d="M465.3 106.9V302.3H791" stroke="#858585" stroke-width="1.6" fill="none"/>
<path d="M460.3 134.75H465.3M460.3 190.4H465.3M460.3 246.1H465.3M460.3 302.3H465.3M465.3 302.3V306.1M511.83 302.3V306.1M558.36 302.3V306.1M604.89 302.3V306.1M651.41 302.3V306.1M697.94 302.3V306.1M744.47 302.3V306.1M791 302.3V306.1" stroke="#858585" stroke-width="1.6" fill="none"/>
<text x="451.4" y="139.15" text-anchor="end" font-size="12.4" fill="#231f20" textLength="29.37" lengthAdjust="spacingAndGlyphs">1500</text>
<text x="451.4" y="194.8" text-anchor="end" font-size="12.4" fill="#231f20" textLength="29.37" lengthAdjust="spacingAndGlyphs">1400</text>
<text x="451.4" y="250.5" text-anchor="end" font-size="12.4" fill="#231f20" textLength="29.37" lengthAdjust="spacingAndGlyphs">1300</text>
<text x="451.4" y="306.1" text-anchor="end" font-size="12.4" fill="#231f20" textLength="29.37" lengthAdjust="spacingAndGlyphs">1200</text>
<text x="403.2" y="121.5" font-size="15" font-weight="bold" fill="#231f20">E</text>
<text transform="translate(411.1 259.3) rotate(-90)" font-size="14" fill="#231f20" textLength="118.2" lengthAdjust="spacingAndGlyphs">TMD (mg HA/cm<tspan font-size="9" dy="-5">3</tspan><tspan dy="5">)</tspan></text>
<rect x="473.4" y="532.8" width="8.9" height="8.5" fill="#0c0c0c" stroke="#000" stroke-width="1.4"/>
<rect x="482.3" y="530.7" width="10" height="10.6" fill="#d9d9d9" stroke="#000" stroke-width="1.4"/>
<rect x="492.3" y="508.6" width="10.6" height="32.7" fill="#868686" stroke="#000" stroke-width="1.4"/>
<path d="M477.25 523.9V533.1M474.55 523.9h5.4M474.55 533.1h5.4" stroke="#000" stroke-width="1.5" fill="none"/>
<path d="M488.05 522.6V538.1M485.35 522.6h5.4M485.35 538.1h5.4" stroke="#000" stroke-width="1.5" fill="none"/>
<path d="M498.25 497.7V518.5M495.55 497.7h5.4M495.55 518.5h5.4" stroke="#000" stroke-width="1.5" fill="none"/>
<path d="M494.95 490L502.15 490M496.75 486.88L500.35 493.12M500.35 486.88L496.75 493.12" stroke="#333" stroke-width="0.95" fill="none"/>
<rect x="520.2" y="512.7" width="8.8" height="28.6" fill="#0c0c0c" stroke="#000" stroke-width="1.4"/>
<rect x="529" y="508" width="10.3" height="33.3" fill="#d9d9d9" stroke="#000" stroke-width="1.4"/>
<rect x="539.3" y="494.2" width="10.3" height="47.1" fill="#868686" stroke="#000" stroke-width="1.4"/>
<path d="M524 502.4V513M521.3 502.4h5.4M521.3 513h5.4" stroke="#000" stroke-width="1.5" fill="none"/>
<path d="M534.9 502.4V512.2M532.2 502.4h5.4M532.2 512.2h5.4" stroke="#000" stroke-width="1.5" fill="none"/>
<path d="M545.1 483.9V504.1M542.4 483.9h5.4M542.4 504.1h5.4" stroke="#000" stroke-width="1.5" fill="none"/>
<path d="M541.8 476.2L549 476.2M543.6 473.08L547.2 479.32M547.2 473.08L543.6 479.32" stroke="#333" stroke-width="0.95" fill="none"/>
<rect x="566.9" y="499.9" width="8.8" height="41.4" fill="#0c0c0c" stroke="#000" stroke-width="1.4"/>
<rect x="575.7" y="501" width="10.1" height="40.3" fill="#d9d9d9" stroke="#000" stroke-width="1.4"/>
<rect x="585.8" y="480.4" width="10.6" height="60.9" fill="#868686" stroke="#000" stroke-width="1.4"/>
<path d="M570.7 488.6V500.2M568 488.6h5.4M568 500.2h5.4" stroke="#000" stroke-width="1.5" fill="none"/>
<path d="M581.5 492.4V508.4M578.8 492.4h5.4M578.8 508.4h5.4" stroke="#000" stroke-width="1.5" fill="none"/>
<path d="M591.75 473.3V486M589.05 473.3h5.4M589.05 486h5.4" stroke="#000" stroke-width="1.5" fill="none"/>
<path d="M588.45 465.9L595.65 465.9M590.25 462.78L593.85 469.02M593.85 462.78L590.25 469.02" stroke="#333" stroke-width="0.95" fill="none"/>
<rect x="613.1" y="470.7" width="9.3" height="70.6" fill="#0c0c0c" stroke="#000" stroke-width="1.4"/>
<rect x="622.4" y="461.1" width="11.2" height="80.2" fill="#d9d9d9" stroke="#000" stroke-width="1.4"/>
<rect x="633.6" y="455.9" width="9.8" height="85.4" fill="#868686" stroke="#000" stroke-width="1.4"/>
<path d="M617.15 459.3V471M614.45 459.3h5.4M614.45 471h5.4" stroke="#000" stroke-width="1.5" fill="none"/>
<path d="M628.75 457.8V463.3M626.05 457.8h5.4M626.05 463.3h5.4" stroke="#000" stroke-width="1.5" fill="none"/>
<path d="M639.15 442.1V468.6M636.45 442.1h5.4M636.45 468.6h5.4" stroke="#000" stroke-width="1.5" fill="none"/>
<path d="M635.85 435.3L643.05 435.3M637.65 432.18L641.25 438.42M641.25 432.18L637.65 438.42" stroke="#333" stroke-width="0.95" fill="none"/>
<rect x="659.8" y="433.1" width="9.6" height="108.2" fill="#0c0c0c" stroke="#000" stroke-width="1.4"/>
<rect x="669.4" y="424.7" width="10.6" height="116.6" fill="#d9d9d9" stroke="#000" stroke-width="1.4"/>
<rect x="680" y="414.2" width="9.9" height="127.1" fill="#868686" stroke="#000" stroke-width="1.4"/>
<path d="M664 416.1V433.4M661.3 416.1h5.4M661.3 433.4h5.4" stroke="#000" stroke-width="1.5" fill="none"/>
<path d="M675.45 419.2V429.2M672.75 419.2h5.4M672.75 429.2h5.4" stroke="#000" stroke-width="1.5" fill="none"/>
<path d="M685.6 404V422.7M682.9 404h5.4M682.9 422.7h5.4" stroke="#000" stroke-width="1.5" fill="none"/>
<path d="M682.3 396.9L689.5 396.9M684.1 393.78L687.7 400.02M687.7 393.78L684.1 400.02" stroke="#333" stroke-width="0.95" fill="none"/>
<rect x="707" y="408.7" width="9.6" height="132.6" fill="#0c0c0c" stroke="#000" stroke-width="1.4"/>
<rect x="716.6" y="390.3" width="10.7" height="151" fill="#d9d9d9" stroke="#000" stroke-width="1.4"/>
<rect x="727.3" y="395.5" width="9.8" height="145.8" fill="#868686" stroke="#000" stroke-width="1.4"/>
<path d="M711.2 400.9V409M708.5 400.9h5.4M708.5 409h5.4" stroke="#000" stroke-width="1.5" fill="none"/>
<path d="M722.7 376.5V403M720 376.5h5.4M720 403h5.4" stroke="#000" stroke-width="1.5" fill="none"/>
<path d="M719.4 369.3L726.6 369.3M721.2 366.18L724.8 372.42M724.8 366.18L721.2 372.42" stroke="#333" stroke-width="0.95" fill="none"/>
<path d="M732.85 381.7V408.2M730.15 381.7h5.4M730.15 408.2h5.4" stroke="#000" stroke-width="1.5" fill="none"/>
<rect x="754.2" y="367.4" width="9.1" height="173.9" fill="#0c0c0c" stroke="#000" stroke-width="1.4"/>
<rect x="763.3" y="364.8" width="10.5" height="176.5" fill="#d9d9d9" stroke="#000" stroke-width="1.4"/>
<rect x="773.8" y="360.9" width="10.5" height="180.4" fill="#868686" stroke="#000" stroke-width="1.4"/>
<path d="M758.15 356.2V367.7M755.45 356.2h5.4M755.45 367.7h5.4" stroke="#000" stroke-width="1.5" fill="none"/>
<path d="M769.3 347.8V379.9M766.6 347.8h5.4M766.6 379.9h5.4" stroke="#000" stroke-width="1.5" fill="none"/>
<path d="M779.7 342.3V378.6M777 342.3h5.4M777 378.6h5.4" stroke="#000" stroke-width="1.5" fill="none"/>
<path d="M463.9 341.25V541.9H792" stroke="#858585" stroke-width="1.6" fill="none"/>
<path d="M458.9 341.25H463.9M458.9 391.25H463.9M458.9 441.3H463.9M458.9 491.3H463.9M458.9 541.9H463.9M463.9 541.9V545.7M510.77 541.9V545.7M557.64 541.9V545.7M604.51 541.9V545.7M651.39 541.9V545.7M698.26 541.9V545.7M745.13 541.9V545.7M792 541.9V545.7" stroke="#858585" stroke-width="1.6" fill="none"/>
<text x="449.4" y="345.65" text-anchor="end" font-size="12.4" fill="#231f20" textLength="25.7" lengthAdjust="spacingAndGlyphs">0.35</text>
<text x="449.4" y="395.65" text-anchor="end" font-size="12.4" fill="#231f20" textLength="18.36" lengthAdjust="spacingAndGlyphs">0.3</text>
<text x="449.4" y="445.7" text-anchor="end" font-size="12.4" fill="#231f20" textLength="25.7" lengthAdjust="spacingAndGlyphs">0.25</text>
<text x="449.4" y="495.7" text-anchor="end" font-size="12.4" fill="#231f20" textLength="18.36" lengthAdjust="spacingAndGlyphs">0.2</text>
<text x="449.4" y="545.7" text-anchor="end" font-size="12.4" fill="#231f20" textLength="25.7" lengthAdjust="spacingAndGlyphs">0.15</text>
<text x="407.3" y="349.75" font-size="15" font-weight="bold" fill="#231f20">F</text>
<text transform="translate(416.5 495.7) rotate(-90)" font-size="14" fill="#231f20" textLength="116.8" lengthAdjust="spacingAndGlyphs">Mean Ct.Th (mm )</text>
<rect x="473" y="746.1" width="8.6" height="28.2" fill="#0c0c0c" stroke="#000" stroke-width="1.4"/>
<rect x="481.6" y="752.4" width="10.7" height="21.9" fill="#d9d9d9" stroke="#000" stroke-width="1.4"/>
<rect x="492.3" y="717.7" width="10.3" height="56.6" fill="#868686" stroke="#000" stroke-width="1.4"/>
<path d="M476.7 727.5V746.4M474 727.5h5.4M474 746.4h5.4" stroke="#000" stroke-width="1.5" fill="none"/>
<path d="M487.7 737.2V765.6M485 737.2h5.4M485 765.6h5.4" stroke="#000" stroke-width="1.5" fill="none"/>
<path d="M498.1 700.7V732.8M495.4 700.7h5.4M495.4 732.8h5.4" stroke="#000" stroke-width="1.5" fill="none"/>
<path d="M494.8 693.8L502 693.8M496.6 690.68L500.2 696.92M500.2 690.68L496.6 696.92" stroke="#333" stroke-width="0.95" fill="none"/>
<rect x="519.7" y="723" width="9.1" height="51.3" fill="#0c0c0c" stroke="#000" stroke-width="1.4"/>
<rect x="528.8" y="720.3" width="9.9" height="54" fill="#d9d9d9" stroke="#000" stroke-width="1.4"/>
<rect x="538.7" y="700.7" width="10.3" height="73.6" fill="#868686" stroke="#000" stroke-width="1.4"/>
<path d="M523.65 707V723.3M520.95 707h5.4M520.95 723.3h5.4" stroke="#000" stroke-width="1.5" fill="none"/>
<path d="M534.5 698.6V739.3M531.8 698.6h5.4M531.8 739.3h5.4" stroke="#000" stroke-width="1.5" fill="none"/>
<path d="M544.5 685.5V715.7M541.8 685.5h5.4M541.8 715.7h5.4" stroke="#000" stroke-width="1.5" fill="none"/>
<path d="M541.2 678L548.4 678M543 674.88L546.6 681.12M546.6 674.88L543 681.12" stroke="#333" stroke-width="0.95" fill="none"/>
<rect x="566.2" y="728.7" width="8.5" height="45.6" fill="#0c0c0c" stroke="#000" stroke-width="1.4"/>
<rect x="574.7" y="742.7" width="10.7" height="31.6" fill="#d9d9d9" stroke="#000" stroke-width="1.4"/>
<rect x="585.4" y="708" width="10.8" height="66.3" fill="#868686" stroke="#000" stroke-width="1.4"/>
<path d="M569.85 715.7V729M567.15 715.7h5.4M567.15 729h5.4" stroke="#000" stroke-width="1.5" fill="none"/>
<path d="M580.8 721V761.1M578.1 721h5.4M578.1 761.1h5.4" stroke="#000" stroke-width="1.5" fill="none"/>
<path d="M591.45 684.7V730.7M588.75 684.7h5.4M588.75 730.7h5.4" stroke="#000" stroke-width="1.5" fill="none"/>
<rect x="613" y="728.7" width="9.1" height="45.6" fill="#0c0c0c" stroke="#000" stroke-width="1.4"/>
<rect x="622.1" y="709.8" width="10.7" height="64.5" fill="#d9d9d9" stroke="#000" stroke-width="1.4"/>
<rect x="632.8" y="689.4" width="10.3" height="84.9" fill="#868686" stroke="#000" stroke-width="1.4"/>
<path d="M616.95 715.7V729M614.25 715.7h5.4M614.25 729h5.4" stroke="#000" stroke-width="1.5" fill="none"/>
<path d="M628.2 700V717.8M625.5 700h5.4M625.5 717.8h5.4" stroke="#000" stroke-width="1.5" fill="none"/>
<path d="M624.9 692.8L632.1 692.8M626.7 689.68L630.3 695.92M630.3 689.68L626.7 695.92" stroke="#333" stroke-width="0.95" fill="none"/>
<path d="M638.6 670.6V707M635.9 670.6h5.4M635.9 707h5.4" stroke="#000" stroke-width="1.5" fill="none"/>
<path d="M635.3 663.6L642.5 663.6M637.1 660.48L640.7 666.72M640.7 660.48L637.1 666.72" stroke="#333" stroke-width="0.95" fill="none"/>
<rect x="659.8" y="700.7" width="9.1" height="73.6" fill="#0c0c0c" stroke="#000" stroke-width="1.4"/>
<rect x="668.9" y="700.7" width="10.6" height="73.6" fill="#d9d9d9" stroke="#000" stroke-width="1.4"/>
<rect x="679.5" y="656.5" width="10.4" height="117.8" fill="#868686" stroke="#000" stroke-width="1.4"/>
<path d="M663.75 682.9V701M661.05 682.9h5.4M661.05 701h5.4" stroke="#000" stroke-width="1.5" fill="none"/>
<path d="M674.95 684.7V715.2M672.25 684.7h5.4M672.25 715.2h5.4" stroke="#000" stroke-width="1.5" fill="none"/>
<path d="M685.35 643.5V669.2M682.65 643.5h5.4M682.65 669.2h5.4" stroke="#000" stroke-width="1.5" fill="none"/>
<path d="M682.05 636L689.25 636M683.85 632.88L687.45 639.12M687.45 632.88L683.85 639.12" stroke="#333" stroke-width="0.95" fill="none"/>
<rect x="707" y="706.7" width="9.1" height="67.6" fill="#0c0c0c" stroke="#000" stroke-width="1.4"/>
<rect x="716.1" y="684.1" width="10.4" height="90.2" fill="#d9d9d9" stroke="#000" stroke-width="1.4"/>
<rect x="726.5" y="638.2" width="9.8" height="136.1" fill="#868686" stroke="#000" stroke-width="1.4"/>
<path d="M710.95 693.4V707M708.25 693.4h5.4M708.25 707h5.4" stroke="#000" stroke-width="1.5" fill="none"/>
<path d="M722.05 669.8V697.9M719.35 669.8h5.4M719.35 697.9h5.4" stroke="#000" stroke-width="1.5" fill="none"/>
<path d="M718.75 662.2L725.95 662.2M720.55 659.08L724.15 665.32M724.15 659.08L720.55 665.32" stroke="#333" stroke-width="0.95" fill="none"/>
<path d="M732.05 619.9V655.3M729.35 619.9h5.4M729.35 655.3h5.4" stroke="#000" stroke-width="1.5" fill="none"/>
<path d="M728.75 612.5L735.95 612.5M730.55 609.38L734.15 615.62M734.15 609.38L730.55 615.62" stroke="#333" stroke-width="0.95" fill="none"/>
<rect x="753.5" y="673.9" width="9.8" height="100.4" fill="#0c0c0c" stroke="#000" stroke-width="1.4"/>
<rect x="763.3" y="673.9" width="9.9" height="100.4" fill="#d9d9d9" stroke="#000" stroke-width="1.4"/>
<rect x="773.2" y="624.5" width="10.4" height="149.8" fill="#868686" stroke="#000" stroke-width="1.4"/>
<path d="M757.8 662.4V674.2M755.1 662.4h5.4M755.1 674.2h5.4" stroke="#000" stroke-width="1.5" fill="none"/>
<path d="M769 660V687.6M766.3 660h5.4M766.3 687.6h5.4" stroke="#000" stroke-width="1.5" fill="none"/>
<path d="M779.05 596.3V650.9M776.35 596.3h5.4M776.35 650.9h5.4" stroke="#000" stroke-width="1.5" fill="none"/>
<path d="M775.75 589L782.95 589M777.55 585.88L781.15 592.12M781.15 585.88L777.55 592.12" stroke="#333" stroke-width="0.95" fill="none"/>
<path d="M463.1 572.75V774.9H791.6" stroke="#858585" stroke-width="1.6" fill="none"/>
<path d="M458.1 572.75H463.1M458.1 623.2H463.1M458.1 673.6H463.1M458.1 724H463.1M458.1 774.9H463.1M463.1 774.9V778.7M510.03 774.9V778.7M556.96 774.9V778.7M603.89 774.9V778.7M650.81 774.9V778.7M697.74 774.9V778.7M744.67 774.9V778.7M791.6 774.9V778.7" stroke="#858585" stroke-width="1.6" fill="none"/>
<text x="449.4" y="577.15" text-anchor="end" font-size="12.4" fill="#231f20" textLength="18.36" lengthAdjust="spacingAndGlyphs">1.4</text>
<text x="449.4" y="627.6" text-anchor="end" font-size="12.4" fill="#231f20" textLength="18.36" lengthAdjust="spacingAndGlyphs">1.3</text>
<text x="449.4" y="678" text-anchor="end" font-size="12.4" fill="#231f20" textLength="18.36" lengthAdjust="spacingAndGlyphs">1.2</text>
<text x="449.4" y="728.4" text-anchor="end" font-size="12.4" fill="#231f20" textLength="18.36" lengthAdjust="spacingAndGlyphs">1.1</text>
<text x="449.4" y="778.7" text-anchor="end" font-size="12.4" fill="#231f20" textLength="7.34" lengthAdjust="spacingAndGlyphs">1</text>
<text x="408.6" y="582.1" font-size="15" font-weight="bold" fill="#231f20">G</text>
<text transform="translate(416.5 727.5) rotate(-90)" font-size="14" fill="#231f20" textLength="93.5" lengthAdjust="spacingAndGlyphs">Min.Dm (mm )</text>
<rect x="78.2" y="111.6" width="13.2" height="13.2" fill="#0c0c0c" stroke="#1a1a1a" stroke-width="1.3"/>
<rect x="78.2" y="131.4" width="13.2" height="13.2" fill="#d9d9d9" stroke="#1a1a1a" stroke-width="1.3"/>
<rect x="78.2" y="151.4" width="13.2" height="13.2" fill="#868686" stroke="#1a1a1a" stroke-width="1.3"/>
<text x="100.4" y="123.9" font-size="17.4" fill="#2a2a2a" textLength="31.5" lengthAdjust="spacingAndGlyphs">VEH</text>
<text x="100.6" y="144.0" font-size="17.4" fill="#2a2a2a" textLength="31" lengthAdjust="spacingAndGlyphs">PTH</text>
<text x="100.4" y="164.4" font-size="17.4" fill="#2a2a2a" textLength="20.8" lengthAdjust="spacingAndGlyphs">ZA</text>
<path d="M65.4 784.8V795.6M65.4 790.1H122.6M204.6 790.1H263.6M263.6 784.8V795.6" stroke="#222" stroke-width="1.6" fill="none"/>
<text x="123.8" y="792.6" font-size="10.8" fill="#3a3a3a" textLength="81" lengthAdjust="spacingAndGlyphs">daily PTH dosing</text>
<rect x="63.9" y="796.2" width="200.1" height="6.5" fill="#d2d2d2"/>
<text x="88.6" y="811.8" font-size="11" font-weight="bold" text-anchor="middle" fill="#222">0</text>
<text x="134.4" y="811.8" font-size="11" font-weight="bold" text-anchor="middle" fill="#222">1</text>
<text x="180" y="811.8" font-size="11" font-weight="bold" text-anchor="middle" fill="#222">2</text>
<text x="225.3" y="811.8" font-size="11" font-weight="bold" text-anchor="middle" fill="#222">4</text>
<text x="270.8" y="811.8" font-size="11" font-weight="bold" text-anchor="middle" fill="#222">8</text>
<text x="316.6" y="811.8" font-size="11" font-weight="bold" text-anchor="middle" fill="#222">12</text>
<text x="362.6" y="811.8" font-size="11" font-weight="bold" text-anchor="middle" fill="#222">26</text>
<text x="205.4" y="823.4" font-size="12.4" font-weight="bold" fill="#222" textLength="39.6" lengthAdjust="spacingAndGlyphs">Weeks</text>
<rect x="39.2" y="812.4" width="6.9" height="7.3" fill="#6a6a6a"/>
<rect x="78.2" y="812.4" width="6.9" height="7.3" fill="#6a6a6a"/>
<rect x="126.1" y="812.4" width="6.9" height="7.3" fill="#6a6a6a"/>
<rect x="168.4" y="812.4" width="6.9" height="7.3" fill="#6a6a6a"/>
<path d="M39.9 820.2V830.5M39.9 825.5H75.4M161 825.5H173.7M173.7 820.2V830.5" stroke="#222" stroke-width="1.6" fill="none"/>
<text x="76.9" y="828.4" font-size="10.8" fill="#3a3a3a" textLength="84" lengthAdjust="spacingAndGlyphs">weekly ZA dosing</text>
<g transform="matrix(1.03 0 0 1 397.1 0)"><path d="M65.4 784.8V795.6M65.4 790.1H122.6M204.6 790.1H263.6M263.6 784.8V795.6" stroke="#222" stroke-width="1.6" fill="none"/>
<text x="123.8" y="792.6" font-size="10.8" fill="#3a3a3a" textLength="81" lengthAdjust="spacingAndGlyphs">daily PTH dosing</text>
<rect x="63.9" y="796.2" width="200.1" height="6.5" fill="#d2d2d2"/>
<text x="88.6" y="811.8" font-size="11" font-weight="bold" text-anchor="middle" fill="#222">0</text>
<text x="134.4" y="811.8" font-size="11" font-weight="bold" text-anchor="middle" fill="#222">1</text>
<text x="180" y="811.8" font-size="11" font-weight="bold" text-anchor="middle" fill="#222">2</text>
<text x="225.3" y="811.8" font-size="11" font-weight="bold" text-anchor="middle" fill="#222">4</text>
<text x="270.8" y="811.8" font-size="11" font-weight="bold" text-anchor="middle" fill="#222">8</text>
<text x="316.6" y="811.8" font-size="11" font-weight="bold" text-anchor="middle" fill="#222">12</text>
<text x="362.6" y="811.8" font-size="11" font-weight="bold" text-anchor="middle" fill="#222">26</text>
<text x="205.4" y="823.4" font-size="12.4" font-weight="bold" fill="#222" textLength="39.6" lengthAdjust="spacingAndGlyphs">Weeks</text>
<rect x="39.2" y="812.4" width="6.9" height="7.3" fill="#6a6a6a"/>
<rect x="78.2" y="812.4" width="6.9" height="7.3" fill="#6a6a6a"/>
<rect x="126.1" y="812.4" width="6.9" height="7.3" fill="#6a6a6a"/>
<rect x="168.4" y="812.4" width="6.9" height="7.3" fill="#6a6a6a"/>
<path d="M39.9 820.2V830.5M39.9 825.5H75.4M161 825.5H173.7M173.7 820.2V830.5" stroke="#222" stroke-width="1.6" fill="none"/>
<text x="76.9" y="828.4" font-size="10.8" fill="#3a3a3a" textLength="84" lengthAdjust="spacingAndGlyphs">weekly ZA dosing</text></g>
</svg>
</body></html>
